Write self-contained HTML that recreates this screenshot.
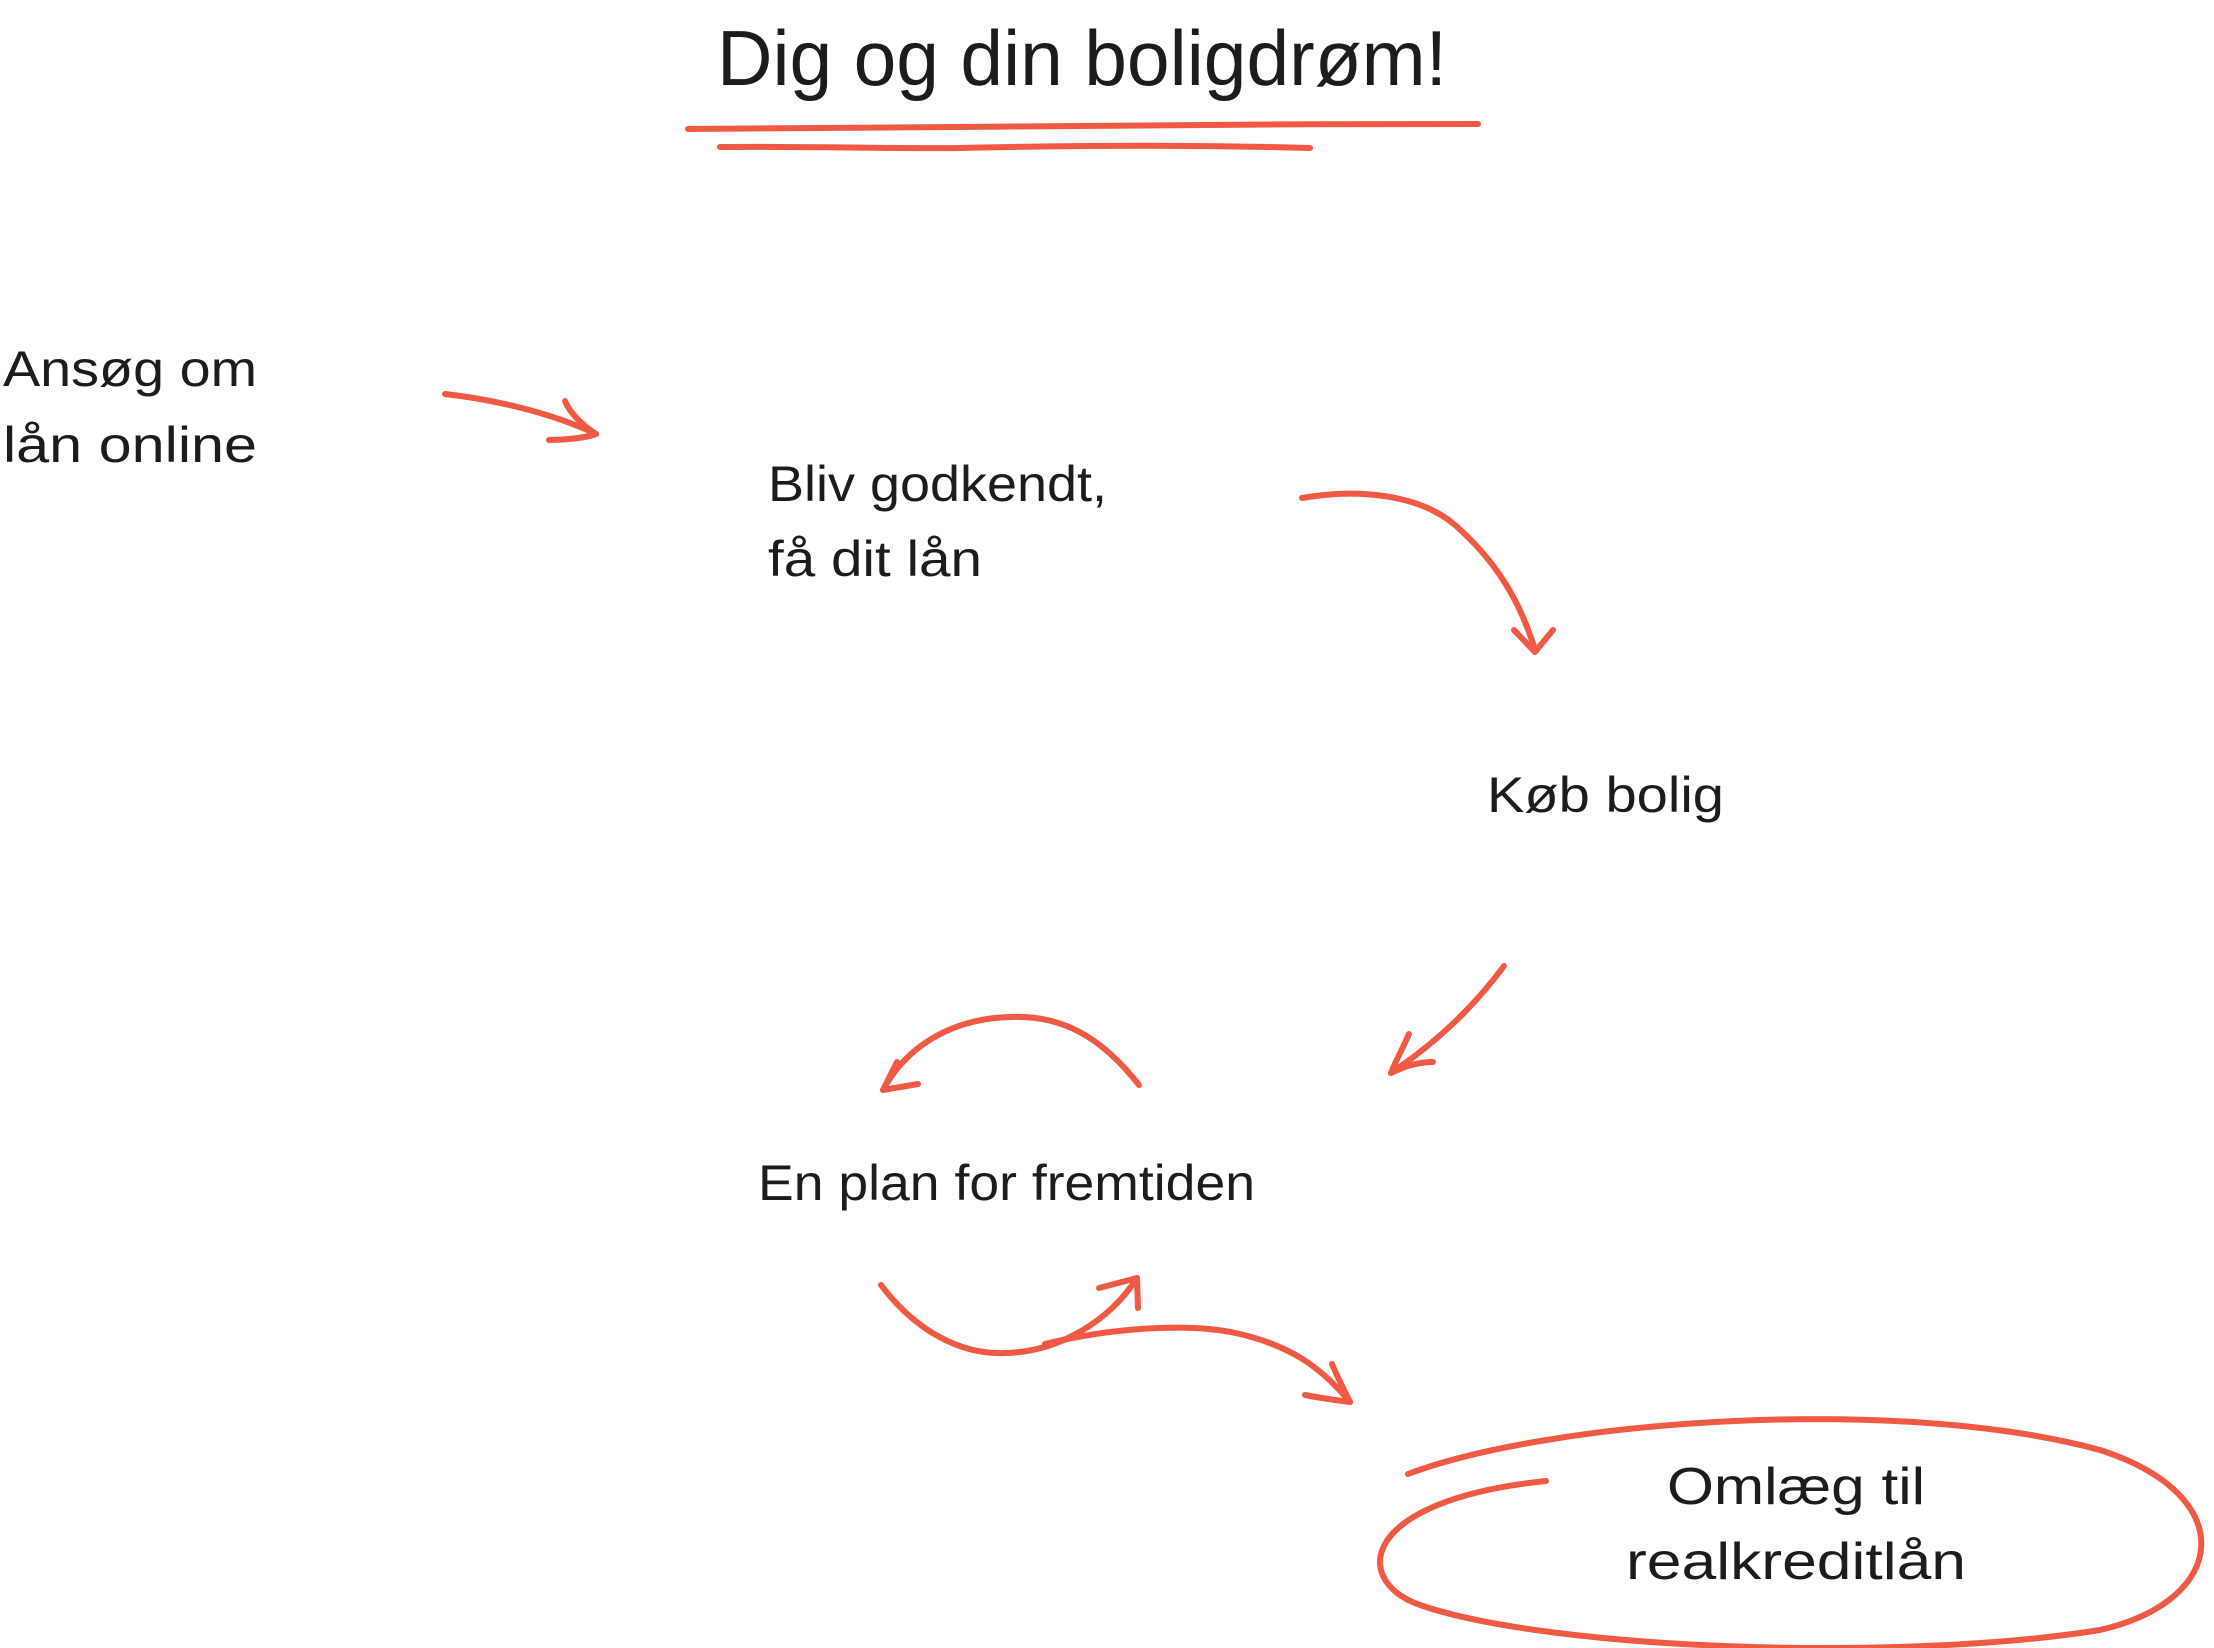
<!DOCTYPE html>
<html><head><meta charset="utf-8"><style>
html,body{margin:0;padding:0;background:#fff;width:2214px;height:1648px;overflow:hidden}
svg text{font-family:"Liberation Sans",sans-serif;fill:#1c1c1c}
</style></head><body>
<svg width="2214" height="1648" viewBox="0 0 2214 1648" xmlns="http://www.w3.org/2000/svg">
<g fill="none" stroke="#f05a45" stroke-width="6" stroke-linecap="round" stroke-linejoin="round">
<path d="M688,129 C900,126 1200,124 1478,124"/>
<path d="M720,147 C800,146 900,149 960,148 C1100,145 1200,145 1310,148"/>
<path d="M445,394 C490,399 550,412 596,434"/>
<path d="M565,401 C570,413 582,425 596,434 C585,438 565,440 549,440"/>
<path d="M1302,498 C1360,488 1420,495 1455,525 C1495,560 1520,600 1535,650"/>
<path d="M1514,630 L1535,652 L1553,630"/>
<path d="M1504,966 C1475,1005 1440,1040 1391,1073"/>
<path d="M1409,1034 C1403,1048 1396,1060 1391,1073 C1405,1066 1420,1062 1433,1062"/>
<path d="M1139,1085 C1100,1035 1060,1015 1011,1017 C960,1018 910,1040 883,1090"/>
<path d="M897,1062 L883,1090 L918,1084"/>
<path d="M881,1285 C915,1330 960,1355 1005,1353 C1060,1352 1110,1320 1137,1278"/>
<path d="M1099,1288 L1137,1278 L1138,1308"/>
<path d="M1045,1344 C1110,1328 1190,1322 1240,1334 C1290,1346 1320,1366 1350,1402"/>
<path d="M1332,1364 C1338,1378 1344,1390 1350,1402 C1335,1400 1320,1398 1305,1395"/>
<path d="M1408,1474 C1550,1420 1900,1395 2100,1450 C2240,1495 2230,1600 2100,1630 C1900,1662 1550,1650 1420,1605 C1350,1580 1360,1500 1546,1481"/>
</g>
<text x="717" y="85" font-size="78" textLength="730" lengthAdjust="spacingAndGlyphs">Dig og din boligdrøm!</text>
<text x="3" y="386" font-size="50" textLength="254" lengthAdjust="spacingAndGlyphs">Ansøg om</text>
<text x="3" y="462" font-size="50" textLength="254" lengthAdjust="spacingAndGlyphs">lån online</text>
<text x="768" y="501" font-size="50" textLength="339" lengthAdjust="spacingAndGlyphs">Bliv godkendt,</text>
<text x="768" y="576" font-size="50" textLength="214" lengthAdjust="spacingAndGlyphs">få dit lån</text>
<text x="1487" y="812" font-size="50" textLength="237" lengthAdjust="spacingAndGlyphs">Køb bolig</text>
<text x="758" y="1200" font-size="50" textLength="497" lengthAdjust="spacingAndGlyphs">En plan for fremtiden</text>
<text x="1667" y="1504" font-size="52" textLength="258" lengthAdjust="spacingAndGlyphs">Omlæg til</text>
<text x="1626" y="1579" font-size="52" textLength="340" lengthAdjust="spacingAndGlyphs">realkreditlån</text>
</svg>
</body></html>
